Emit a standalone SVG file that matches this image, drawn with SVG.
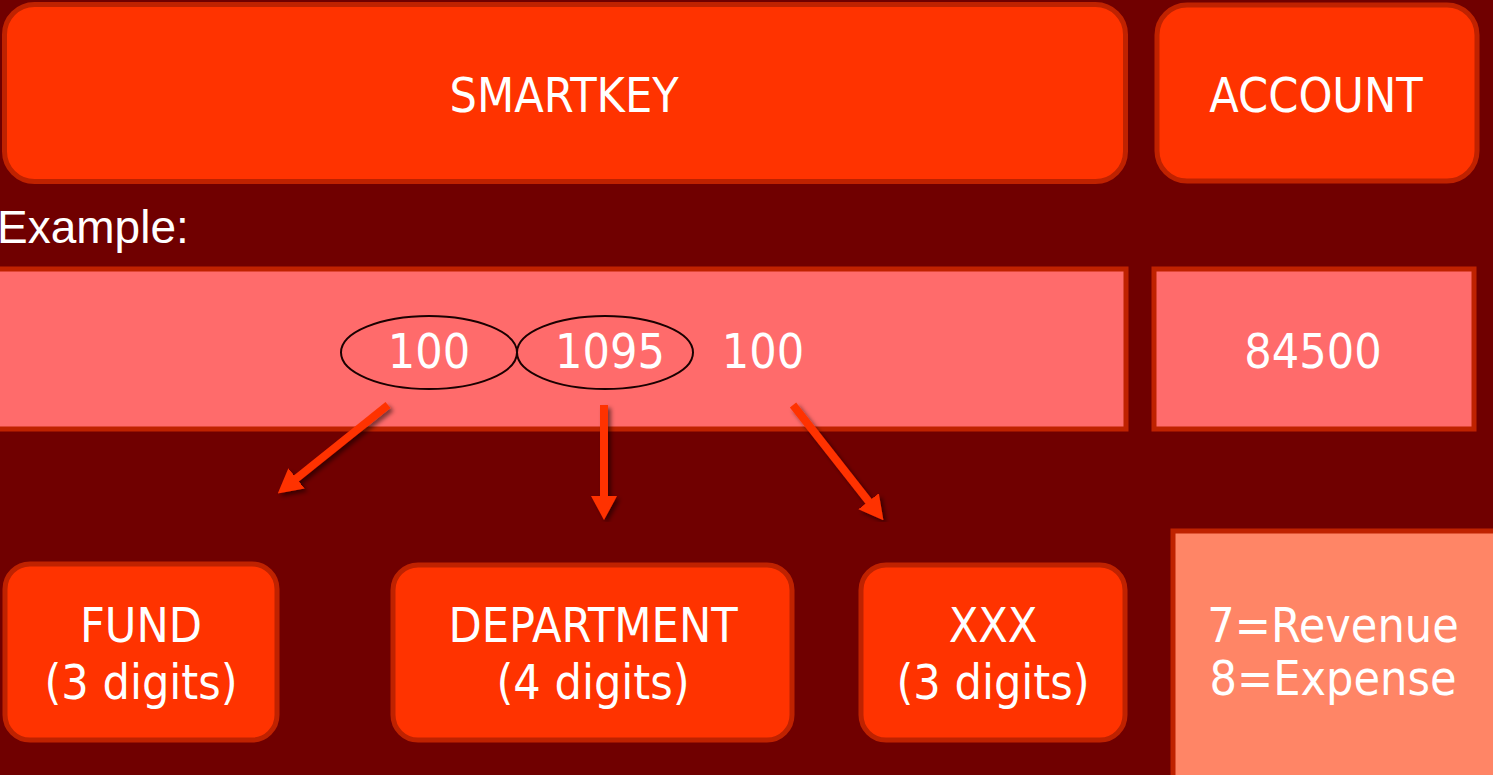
<svg xmlns="http://www.w3.org/2000/svg" width="1493" height="775" viewBox="0 0 1493 775">
<defs>
<style>
.box{fill:#FF3300;stroke:#BF2200;stroke-width:5}
.pink{fill:#FF6B6B;stroke:#BF2200;stroke-width:5}
.salmon{fill:#FF8566;stroke:#BF2200;stroke-width:5}
.t{font-family:"DejaVu Sans Condensed","DejaVu Sans",sans-serif;font-stretch:condensed;font-size:48px;fill:#FFFFFF;text-anchor:middle}
.ex{font-family:"Liberation Sans",Arial,sans-serif;font-size:46px;fill:#FFFFFF}
.ell{fill:none;stroke:#1A0000;stroke-width:2}
.arr{stroke:#FF3300;stroke-width:8;fill:none;marker-end:url(#ah)}
</style>
<marker id="ah" markerUnits="userSpaceOnUse" viewBox="0 -13 24 26" refX="1" refY="0" markerWidth="24" markerHeight="26" orient="auto">
<path d="M0,-13 L24,0 L0,13 z" fill="#FF3300"/>
</marker>
<filter id="sh" x="-20%" y="-20%" width="140%" height="140%">
<feDropShadow dx="3" dy="3" stdDeviation="2" flood-color="#000" flood-opacity="0.5"/>
</filter>
</defs>
<rect width="1493" height="775" fill="#700000"/>
<g id="smartkey"><rect class="box" x="4.5" y="4.5" width="1121" height="177" rx="30"/><text class="t" x="564" y="112">SMARTKEY</text></g>
<g id="account"><rect class="box" x="1157" y="5" width="320" height="176" rx="30"/><text class="t" x="1316" y="112">ACCOUNT</text></g>
<text class="ex" x="-3" y="243">Example:</text>
<g id="example-smartkey"><rect class="pink" x="-5" y="269" width="1131" height="160"/>
<ellipse class="ell" cx="429" cy="352.5" rx="88" ry="36.5"/>
<ellipse class="ell" cx="605" cy="352.5" rx="88" ry="36.5"/>
<text class="t" x="429" y="368">100</text>
<text class="t" x="610" y="368">1095</text>
<text class="t" x="763" y="368">100</text></g>
<g id="example-account"><rect class="pink" x="1154" y="269" width="320" height="160"/><text class="t" x="1313" y="368">84500</text></g>
<g id="connectors" filter="url(#sh)">
<line class="arr" x1="388" y1="405" x2="295.7" y2="479"/>
<line class="arr" x1="604" y1="405" x2="604" y2="497"/>
<line class="arr" x1="793" y1="405" x2="869.2" y2="502.1"/>
</g>
<g id="fund"><rect class="box" x="5" y="564" width="272" height="176" rx="25"/><text class="t" x="141" y="642">FUND</text><text class="t" x="141" y="699">(3 digits)</text></g>
<g id="department"><rect class="box" x="393" y="565" width="399" height="175" rx="25"/><text class="t" x="593" y="642">DEPARTMENT</text><text class="t" x="593" y="699">(4 digits)</text></g>
<g id="xxx"><rect class="box" x="861" y="565" width="264" height="175" rx="25"/><text class="t" x="993" y="642">XXX</text><text class="t" x="993" y="699">(3 digits)</text></g>
<g id="legend"><rect class="salmon" x="1173" y="531" width="330" height="260"/><text class="t" x="1333" y="642">7=Revenue</text><text class="t" x="1333" y="695">8=Expense</text></g>
</svg>
